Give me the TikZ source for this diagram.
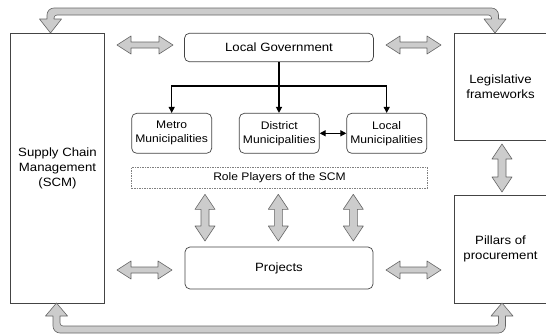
\documentclass[tikz,border=0pt]{standalone}
\usepackage{fontspec}
\setmainfont{Liberation Sans}[FakeStretch=1.1]
\usetikzlibrary{arrows.meta, calc}

\definecolor{blockfill}{HTML}{CCCCCC}
\definecolor{blockline}{HTML}{666666}
\definecolor{boxline}{HTML}{444444}

\tikzset{
  bigbox/.style={draw=boxline, line width=0.7pt, align=center, inner sep=0pt,
    font=\fontsize{12}{15}\selectfont},
  roundbox/.style={bigbox, rounded corners=5pt},
  munibox/.style={roundbox, font=\fontsize{11}{14}\selectfont,
    minimum width=80pt, minimum height=40pt},
  blockarrow/.style={draw=blockline, fill=blockfill, line width=0.6pt, line join=round},
  link/.style={line width=1.2pt},
  tip/.style={-{Triangle[length=6pt,width=6pt]}},
}

% grey double arrow, left tip #1 to right tip #2
\newcommand\hblock[2]{%
  \draw[blockarrow] (#1) -- ++(14,-9) -- ++(0,6) -- ($(#2)+(-14,-3)$) -- ++(0,-6)
    -- (#2) -- ++(-14,9) -- ++(0,-6) -- ($(#1)+(14,3)$) -- ++(0,6) -- cycle;}
% grey double arrow, top tip #1 to bottom tip #2
\newcommand\vblock[2]{%
  \draw[blockarrow] (#1) -- ++(10,15) -- ++(-6,0) -- ($(#2)+(4,-15)$) -- ++(6,0)
    -- (#2) -- ++(-10,-15) -- ++(6,0) -- ($(#1)+(-4,15)$) -- ++(-6,0) -- cycle;}

\begin{document}
\begin{tikzpicture}[x=1pt,y=-1pt]
\useasboundingbox (0,0) rectangle (546,335);
\fill[white] (0,0) rectangle (546,335);

% outer boxes
\node[bigbox, minimum width=94pt, minimum height=270pt] (scm) at (57.5,168) {Supply Chain\\Management\\(SCM)};
\node[bigbox, minimum width=93pt, minimum height=107pt] (legis) at (500.5,86.5) {Legislative\\frameworks};
\node[bigbox, minimum width=93pt, minimum height=108pt] (pillars) at (500.5,249) {Pillars of\\procurement};

% centre column
\node[roundbox, minimum width=189pt, minimum height=28.5pt] (lg) at (279,47.5) {Local Government};
\node[roundbox, minimum width=188pt, minimum height=42pt] (proj) at (279,268) {Projects};
\node[munibox] (metro) at (171.7,133.3) {Metro\\Municipalities};
\node[munibox] (district) at (279.3,133.3) {District\\Municipalities};
\node[munibox] (localm) at (386.7,133.3) {Local\\Municipalities};
\node[draw=gray, dash pattern=on 1.5pt off 1pt, line width=0.6pt, inner sep=0pt,
  minimum width=295.6pt, minimum height=21pt, font=\fontsize{11}{14}\selectfont]
  (roles) at (279.5,177.8) {Role Players of the SCM};

% black links
\coordinate (split) at (lg.south |- 0,86);
\draw[link, tip] (lg.south) -- (lg.south |- district.north);
\draw[link, tip] (split) -| (metro.north);
\draw[link, tip] (split) -| (localm.north);
\draw[link, {Triangle[length=6pt,width=6pt]}-{Triangle[length=6pt,width=6pt]}] (district.east) -- (localm.west);

% grey double arrows
\coordinate (h1a) at (117,45);  \coordinate (h1b) at (173,45);
\coordinate (h2a) at (386,45);  \coordinate (h2b) at (441,45);
\coordinate (h3a) at (117,270); \coordinate (h3b) at (172,270);
\coordinate (h4a) at (386,270); \coordinate (h4b) at (441,270);
\hblock{h1a}{h1b}
\hblock{h2a}{h2b}
\hblock{h3a}{h3b}
\hblock{h4a}{h4b}

\coordinate (v1a) at (205,194.3);   \coordinate (v1b) at (205,241);
\coordinate (v2a) at (278.3,194.3); \coordinate (v2b) at (278.3,241);
\coordinate (v3a) at (353.3,194.3); \coordinate (v3b) at (353.3,241);
\coordinate (v4a) at (502,144);     \coordinate (v4b) at (502,192);
\vblock{v1a}{v1b}
\vblock{v2a}{v2b}
\vblock{v3a}{v3b}
\vblock{v4a}{v4b}

% loops over the top and bottom
\draw[blockarrow] (50.5,33) -- (61.5,19) -- (54,19) [rounded corners=3pt] -- (54,15) -- (491.5,15)
  [sharp corners] -- (491.5,19) -- (484,19) -- (495,33) -- (506,19) -- (498.5,19)
  [rounded corners=7pt] -- (498.5,8) -- (47,8) [sharp corners] -- (47,19) -- (39.5,19) -- cycle;
\draw[blockarrow] (56.5,303) -- (67.5,316) -- (60,316) [rounded corners=3pt] -- (60,326) -- (498.5,326)
  [sharp corners] -- (498.5,316) -- (491,316) -- (502,303) -- (513,316) -- (505.5,316)
  [rounded corners=7pt] -- (505.5,333) -- (53,333) [sharp corners] -- (53,316) -- (45.5,316) -- cycle;
\end{tikzpicture}
\end{document}
